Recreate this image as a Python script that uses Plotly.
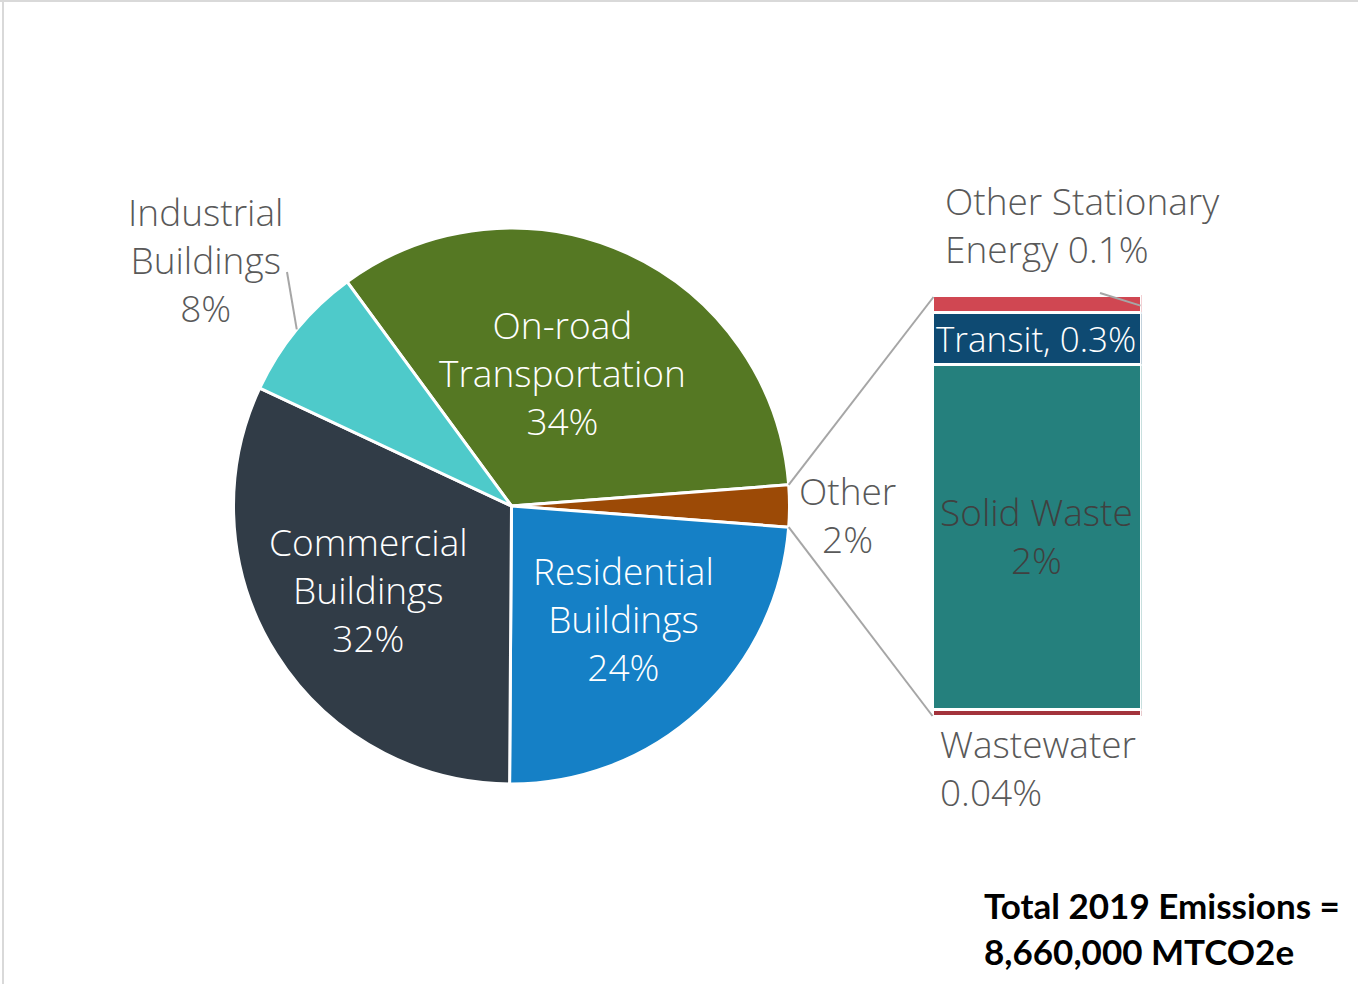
import math
import plotly.graph_objects as go

W, H = 1358, 984

# Main pie: share of 2019 emissions (%)
sectors = ["On-road Transportation", "Other", "Residential Buildings",
           "Commercial Buildings", "Industrial Buildings"]
sector_colors = ["#557823", "#9C4A06", "#1580C6", "#313C47", "#4ECACA"]

# Breakdown of "Other" (%), stacked bottom to top
other_parts = ["Wastewater", "Solid Waste", "Transit", "Other Stationary Energy"]
other_values = [0.04, 2.0, 0.3, 0.1]
other_colors = ["#A3333C", "#25807D", "#0E4A72", "#D04752"]

other_total = sum(other_values)
sector_values = [34, other_total, 24, 32, 8]

total_label = ["Total 2019 Emissions =", "8,660,000 MTCO2e"]

FONT = "Open Sans"
GRAY = "#595959"
LINE = "#A6A6A6"


def px(x, y):
    """pixel position -> paper coordinates"""
    return x / W, 1 - y / H


# pie geometry (pixels)
cx, cy, r = 511.5, 506.0, 278.0
vsum = sum(sector_values)
deg = [v / vsum * 360 for v in sector_values]
# "Other" centred at 3 o'clock; slices run clockwise from On-road
start_math = deg[1] / 2 + deg[0]
rotation = 90 - start_math

pie_x0, pie_y1 = px(cx - r, cy - r)
pie_x1, pie_y0 = px(cx + r, cy + r)

fig = go.Figure()
fig.add_trace(go.Pie(
    labels=sectors, values=sector_values, sort=False, direction="clockwise",
    rotation=rotation, marker=dict(colors=sector_colors, line=dict(color="white", width=3)),
    textinfo="none", hoverinfo="label+percent", showlegend=False,
    domain=dict(x=[pie_x0, pie_x1], y=[pie_y0, pie_y1]),
))

# stacked bar for the "Other" breakdown
bx0, bx1 = 932.5, 1141.5
by_top, by_bot = 295.0, 716.0
for name, val, col in zip(other_parts, other_values, other_colors):
    fig.add_trace(go.Bar(
        x=[0], y=[val], name=name, width=1, marker=dict(color=col, line=dict(color="white", width=3)),
        showlegend=False, hoverinfo="name+y",
    ))

bar_dx0, bar_dy1 = px(bx0, by_top)
bar_dx1, bar_dy0 = px(bx1, by_bot)
fig.update_layout(
    barmode="stack",
    xaxis=dict(domain=[bar_dx0, bar_dx1], range=[-0.5, 0.5], visible=False, fixedrange=True),
    yaxis=dict(domain=[bar_dy0, bar_dy1], range=[0, other_total], visible=False, fixedrange=True),
    width=W, height=H, margin=dict(l=0, r=0, t=0, b=0),
    paper_bgcolor="white", plot_bgcolor="rgba(0,0,0,0)",
    font=dict(family=FONT),
)


def rim(angle_deg, rr=r):
    a = math.radians(angle_deg)
    return cx + rr * math.cos(a), cy - rr * math.sin(a)


def seg(p0, p1, color=LINE, width=2):
    x0, y0 = px(*p0)
    x1, y1 = px(*p1)
    fig.add_shape(type="line", xref="paper", yref="paper", x0=x0, y0=y0, x1=x1, y1=y1,
                  line=dict(color=color, width=width))


# connectors from the "Other" slice edges to the bar corners
other_hi = deg[1] / 2
seg(rim(other_hi), (bx0 + 1, by_top + 2))
seg(rim(-other_hi), (bx0, by_bot))

# leader for Industrial Buildings
ind_mid = start_math + deg[4] / 2
seg(rim(ind_mid), (287, 272))

# leader for Other Stationary Energy
y_ose = by_bot - (other_total - other_values[3] / 2) / other_total * (by_bot - by_top)
seg((1100, 293), (bx1 - 1, y_ose + 2))

# frame edges
fig.add_shape(type="line", xref="paper", yref="paper", x0=0, x1=1, y0=1 - 1 / H, y1=1 - 1 / H,
              line=dict(color="#D9D9D9", width=2))
fig.add_shape(type="line", xref="paper", yref="paper", x0=3 / W, x1=3 / W, y0=0, y1=1,
              line=dict(color="#D9D9D9", width=2))


def label(text, x, y, color=GRAY, size=37, xanchor="center", align="center", weight=300, family=FONT):
    ax, ay = px(x, y)
    fig.add_annotation(text=text, x=ax, y=ay, xref="paper", yref="paper", showarrow=False,
                       xanchor=xanchor, yanchor="middle", align=align,
                       font=dict(family=family, size=size, color=color, weight=weight))


label("Industrial<br>Buildings<br>8%", 205, 259)
label("On-road<br>Transportation<br>34%", 562, 372, color="white")
label("Commercial<br>Buildings<br>32%", 368, 589, color="white")
label("Residential<br>Buildings<br>24%", 623, 618, color="white")
label("Other<br>2%", 847, 514)
label("Other Stationary<br>Energy 0.1%", 943, 225, xanchor="left", align="left")
label("Transit, 0.3%", 1036, 338, color="white", size=35)
label("Solid Waste<br>2%", 1036, 535, color="#404040")
label("Wastewater<br>0.04%", 938, 767, xanchor="left", align="left")
label("<br>".join(total_label), 982, 928, color="black", size=35, xanchor="left", align="left",
      weight="bold", family="Lato")

fig.write_html("out.html")
